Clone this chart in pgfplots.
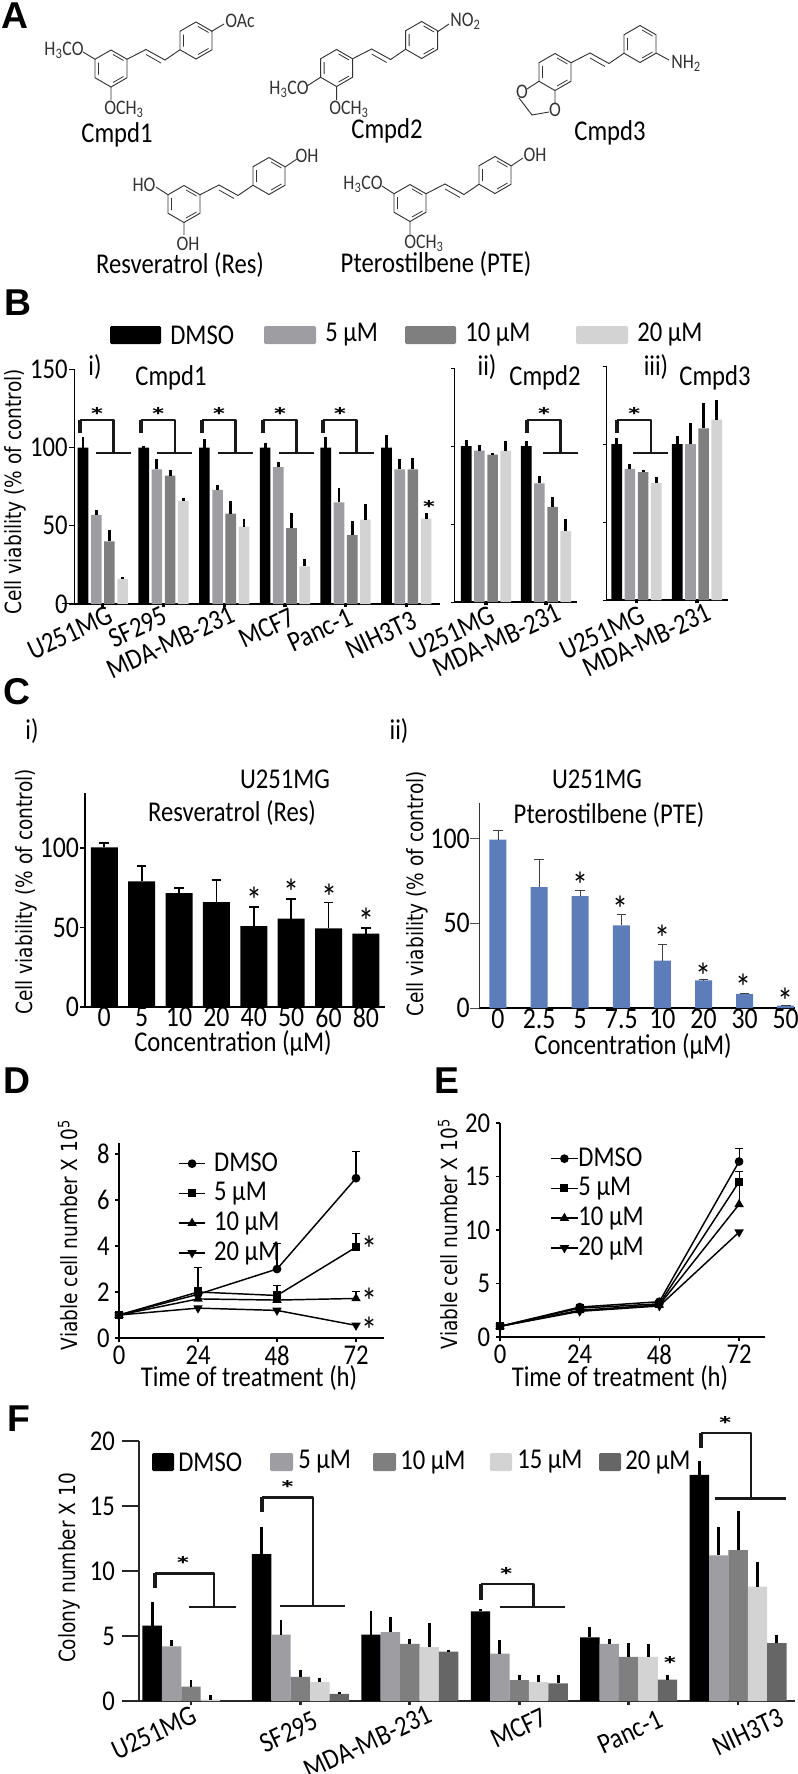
\documentclass[border=0pt]{standalone}
\usepackage{fontspec}
\usepackage{graphicx}
\usepackage{pgfplots}
\pgfplotsset{compat=1.18}
\setmainfont[FakeStretch=0.86]{Carlito}
\newfontfamily\dv[FakeStretch=0.833]{DejaVu Sans}
\newfontfamily\lsans{Liberation Sans}
\newcommand\lab{\fontsize{21.5}{23}\selectfont}
\newcommand\ticklab{\fontsize{22.5}{24}\selectfont}
\newcommand\ylab{\dv\fontsize{16.7}{18}\selectfont}
\newcommand\molf{\fontsize{15.5}{17}\selectfont}
\newcommand\letterf{\lsans\bfseries\fontsize{28}{30}\selectfont}

\definecolor{gA}{HTML}{9D9DA2}
\definecolor{gB}{HTML}{7F7F7F}
\definecolor{gC}{HTML}{D3D3D3}
\definecolor{gD}{HTML}{666666}
\definecolor{blu}{HTML}{5C7DB9}
\definecolor{mol}{HTML}{333333}

\pgfplotsset{
  pos/.style 2 args={at={({#1*0.75pt},{-#2*0.75pt})}},
  panel/.style={
    scale only axis, anchor=south west,
    axis x line=bottom, axis y line=left,
    axis line style={-,black},
    tick align=outside, ymin=0,
    tick label style={font=\lab},
    xticklabel style={inner sep=0pt},
    /pgf/number format/assume math mode=true,
    enlargelimits=false, clip=false,
  },
  eb/.style={
    /pgfplots/error bars/y dir=plus,
    /pgfplots/error bars/y explicit,
    /pgfplots/error bars/error mark=none,
    /pgfplots/error bars/error bar style={draw=black,solid,line width=2.2pt},
  },
  ec/.style 2 args={
    /pgfplots/error bars/y dir=plus,
    /pgfplots/error bars/y explicit,
    /pgfplots/error bars/error bar style={draw=#2,solid,line width=#1},
    /pgfplots/error bars/error mark options={draw=#2,solid,line width=#1,mark size=3.6pt,rotate=90},
  },
  bgrp/.style={
    panel, ybar=1.9pt, bar width=8pt, ymax=150,
    height=176pt, ytick={0,50,100,150},
    xtick={0,...,5}, xticklabels={},
    xtick style={line width=2.4pt,black,/pgfplots/major tick length=2.6pt},
    axis line style={-,black,line width=0.7pt},
    x axis line style={line width=1.3pt},
  },
  linep/.style={
    panel, xtick={0,24,48,72},
    axis line style={-,black,line width=1.3pt},
    ytick style={black,line width=1pt,/pgfplots/major tick length=3pt},
    xtick style={black,line width=1pt,/pgfplots/major tick length=3pt},
    xticklabel style={yshift=-1.2pt},
    legend cell align=left,
    legend image code/.code={\draw[mark repeat=2,mark phase=2,##1] plot coordinates {(0pt,0pt)(10pt,0pt)(20pt,0pt)};},
  },
  lgd/.style n args={3}{
    legend style={at={(rel axis cs:#1,#2)},anchor=north west,draw=none,fill=none,
      inner sep=0pt,outer sep=0pt,row sep=3.3pt,column sep=#3,font=\lab,
      nodes={inner sep=0pt,text height=15pt,text depth=4pt}},
  },
  s1/.style={black,line width=1.1pt,mark=*,mark size=2.7pt},
  s2/.style={black,line width=1.1pt,mark=square*,mark size=2.5pt},
  s3/.style={black,line width=1.1pt,mark=triangle*,mark size=3pt},
  s4/.style={black,line width=1.1pt,mark=triangle*,mark size=3pt,mark options={rotate=180}},
}

% benzene ring, pointy side up
\newcommand\bzring[2]{%
  \begin{scope}[shift={(#1,#2)}]
    \draw[mol,line width=0.7pt] (0,-18.5)--(16,-9.25)--(16,9.25)--(0,18.5)--(-16,9.25)--(-16,-9.25)--cycle;
    \draw[mol,line width=0.6pt] (2,-14)--(12.5,-8) (12.5,8)--(2,14) (-12.5,6)--(-12.5,-6);
  \end{scope}}
% two rings and the vinyl bridge
\newcommand\stil[2]{%
  \bzring{#1}{#2}\bzring{#1+85}{#2-28}%
  \begin{scope}[shift={(#1,#2)}]
    \draw[mol,line width=0.7pt] (16,-9.25)--(35,-19)--(54,-8.5)--(69,-18.75);
    \draw[mol,line width=0.6pt] (35,-14)--(50,-5.5);
  \end{scope}}
\newcommand\mtx[3]{\node[font=\molf,mol,inner sep=0] at (#1,#2) {#3};}

\newcommand\ylb[3]{\node[rotate=90,font=\ylab] at (#1,#2) {#3};}
\newcommand\txt[3]{\node[font=\lab,inner sep=0] at (#1,#2) {#3};}
\newcommand\rtxt[3]{\node[font=\lab,inner sep=0,rotate=25] at (#1,#2) {#3};}
\newcommand\lett[3]{\node[font=\letterf,inner sep=0] at (#1,#2) {#3};}
% asterisks: centre given in picture units
\newcommand\st[2]{\node[inner sep=0,anchor=base,font=\fontsize{28}{28}\selectfont] at (#1,{#2+16.5}) {*};}
\newcommand\bst[2]{\node[inner sep=0,anchor=base,font=\bfseries\fontsize{24}{24}\selectfont] at (#1,{#2+9}) {\scalebox{1.3}[0.7]{*}};}
% brackets: left x, top y, end of thick part, right x, bottom y, bar from, bar to
\newcommand\brk[7]{%
  \draw[line width=1.8pt,black!90,line join=round] (#1,#2)--(#4,#2)--(#4,#5);
  \draw[line width=1.8pt,black!90] (#6,#5)--(#7,#5);
  \draw[line width=3pt,black!90] (#1,#2)--(#1,#3);}
\newcommand\brB[1]{\brk{#1}{420}{433}{#1+33.5}{453}{#1+16}{#1+50.5}\bst{#1+17}{414}}
\newcommand\sw[4]{\fill[#4,rounded corners=1pt] (#1,#2) rectangle (#1+#3,#2+18);}

\begin{document}
\begin{tikzpicture}[x=0.75pt,y=-0.75pt]
\useasboundingbox (0,0) rectangle (797,1774);

% ---------- A
\lett{15}{16}{A}
\stil{111}{68.5}
\draw[mol,line width=0.7pt] (95,59.25)--(83,52) (111,87)--(111,100) (211,31.75)--(224,24);
\mtx{64}{50}{H\textsubscript{3}CO}\mtx{124}{109}{OCH\textsubscript{3}}\node[font=\molf,mol,inner sep=0,anchor=west] at (225,21) {OAc};
\txt{117}{135}{Cmpd1}
\stil{336.6}{68}
\draw[mol,line width=0.7pt] (320.6,77.25)--(307,86) (336.6,86.5)--(336.6,100) (437.6,31.75)--(449,24);
\mtx{289}{89}{H\textsubscript{3}CO}\mtx{349}{109}{OCH\textsubscript{3}}\node[font=\molf,mol,inner sep=0,anchor=west] at (450,21) {NO\textsubscript{2}};
\txt{387}{131}{Cmpd2}
\stil{555}{72}
\draw[mol,line width=0.7pt] (539,81.25)--(527,89) (555,90.5)--(555,104) (519,98)--(532,115)--(549,112) (656,53)--(669,60);
\mtx{522}{92}{O}\mtx{555}{110}{O}\node[font=\molf,mol,inner sep=0,anchor=west] at (671,63) {NH\textsubscript{2}};
\txt{610}{133}{Cmpd3}
\stil{184}{204}
\draw[mol,line width=0.7pt] (168,194.75)--(156,187) (184,222.5)--(184,235) (285,167)--(297,159);
\mtx{144}{185}{HO}\mtx{188}{244}{OH}\mtx{307}{156}{OH}
\txt{180}{265}{Resveratrol (Res)}
\stil{410}{203}
\draw[mol,line width=0.7pt] (394,193.75)--(382,186) (410,221.5)--(410,234) (511,166)--(523,158);
\mtx{363}{184}{H\textsubscript{3}CO}\mtx{424}{243}{OCH\textsubscript{3}}\mtx{535}{155}{OH}
\txt{436}{264}{Pterostilbene (PTE)}

% ---------- B
\lett{18}{303}{B}
\sw{110}{326}{51}{black}\sw{264}{326}{52}{gA}\sw{405}{326}{51}{gB}\sw{576}{326}{52}{gC}
\node[font=\lab,anchor=west,inner sep=0] at (170,335) {DMSO};
\node[font=\lab,anchor=west,inner sep=0] at (325,335) {5 µM};
\node[font=\lab,anchor=west,inner sep=0] at (465,335) {10 µM};
\node[font=\lab,anchor=west,inner sep=0] at (637,335) {20 µM};
\ylb{15}{492}{Cell viability (\% of control)}

\begin{axis}[bgrp, pos={74}{604}, width=274.5pt, xmin=-0.4745, xmax=5.555,
  yticklabels={0\hspace{5pt},50\hspace{2pt},100,150},
  yticklabel style={inner sep=0.3pt},
  ytick style={black,line width=0.7pt,/pgfplots/major tick length=3.75pt}]
\addplot[fill=black,draw=none,eb] coordinates {(0,100)+-(0,7) (1,100)+-(0,1) (2,100)+-(0,5.5) (3,100)+-(0,3) (4,100)+-(0,7) (5,100)+-(0,8)};
\addplot[fill=gA,draw=none,eb] coordinates {(0,57)+-(0,3) (1,86)+-(0,6.6) (2,73)+-(0,3) (3,87.5)+-(0,3.5) (4,65)+-(0,9) (5,86)+-(0,7)};
\addplot[fill=gB,draw=none,eb] coordinates {(0,40)+-(0,7) (1,82)+-(0,3.7) (2,57.7)+-(0,7.9) (3,48.5)+-(0,9.5) (4,44)+-(0,9) (5,86)+-(0,7.5)};
\addplot[fill=gC,draw=none,eb] coordinates {(0,16)+-(0,1.5) (1,66)+-(0,2) (2,49.5)+-(0,5.1) (3,24)+-(0,4.6) (4,54)+-(0,10) (5,54.5)+-(0,3.5)};
\end{axis}
\draw[black,line width=0.7pt] (62,603.5)--(74,603.5);
\begin{axis}[bgrp, pos={454}{602}, width=92.25pt, height=175.5pt, xmin=-0.533, xmax=1.517,
  xtick={0,1}, yticklabels={},
  ytick style={black,line width=0.7pt,/pgfplots/major tick length=2.5pt}]
\addplot[fill=black,draw=none,eb] coordinates {(0,100)+-(0,4) (1,100)+-(0,3)};
\addplot[fill=gA,draw=none,eb] coordinates {(0,97)+-(0,3.5) (1,76)+-(0,4.5)};
\addplot[fill=gB,draw=none,eb] coordinates {(0,94.5)+-(0,1) (1,61)+-(0,6)};
\addplot[fill=gC,draw=none,eb] coordinates {(0,97)+-(0,6) (1,45.5)+-(0,7.5)};
\end{axis}
\begin{axis}[bgrp, pos={606}{600}, width=91.5pt, height=175.5pt, xmin=-0.504, xmax=1.512,
  xtick={0,1}, yticklabels={},
  ytick style={black,line width=0.7pt,/pgfplots/major tick length=2.5pt}]
\addplot[fill=black,draw=none,eb] coordinates {(0,100)+-(0,4) (1,100)+-(0,5)};
\addplot[fill=gA,draw=none,eb] coordinates {(0,84)+-(0,3) (1,100)+-(0,13.7)};
\addplot[fill=gB,draw=none,eb] coordinates {(0,82)+-(0,1.5) (1,110)+-(0,16)};
\addplot[fill=gC,draw=none,eb] coordinates {(0,75)+-(0,4) (1,115.6)+-(0,12.4)};
\end{axis}
\brB{80}\brB{141.4}\brB{202}\brB{263}\brB{323}\brB{527}\brB{617.4}
\bst{429}{507}
\txt{95}{367}{i)}\txt{171}{378}{Cmpd1}\txt{487}{367}{ii)}\txt{545}{378}{Cmpd2}\txt{656}{367}{iii)}\txt{715}{378}{Cmpd3}
\rtxt{70}{633}{U251MG}\rtxt{138}{627}{SF295}\rtxt{171}{642}{MDA-MB-231}\rtxt{267}{628}{MCF7}\rtxt{320}{630}{Panc-1}\rtxt{381}{635}{NIH3T3}
\rtxt{452}{633}{U251MG}\rtxt{497}{640}{MDA-MB-231}\rtxt{602}{633}{U251MG}\rtxt{647}{640}{MDA-MB-231}

% ---------- C
\lett{17}{692}{C}
\txt{32}{731}{i)}\txt{399}{731}{ii)}
\txt{285}{779}{U251MG}\txt{232}{813}{Resveratrol (Res)}
\txt{597}{779}{U251MG}\txt{609}{815}{Pterostilbene (PTE)}
\ylb{26}{892}{Cell viability (\% of control)}
\ylb{417}{894}{Cell viability (\% of control)}
\begin{axis}[panel, pos={85}{1007}, width=225pt, height=160.5pt, ymax=134.6, xmin=-0.516, xmax=7.51,
  ybar, bar width=20.25pt, ytick={0,50,100},
  xtick={0,...,7}, xticklabels={0,5,10,20,40,50,60,80},
  tick label style={font=\ticklab},
  yticklabel style={inner sep=0pt},
  xticklabel style={yshift=4.5pt},
  xtick style={draw=none},
  ytick style={black,line width=0.8pt,/pgfplots/major tick length=3.5pt},
  axis line style={-,black,line width=1.1pt},
  x axis line style={line width=1.6pt}]
\addplot[fill=black,draw=none,ec={1.3pt}{black}] coordinates {(0,100.4)+-(0,2.6) (1,79)+-(0,9.5) (2,71.7)+-(0,3) (3,66)+-(0,13.7) (4,50.8)+-(0,12.2) (5,55.6)+-(0,12.4) (6,49.4)+-(0,16.3) (7,46.2)+-(0,3.4)};
\end{axis}
\st{254}{897}\st{291}{889}\st{329}{894}\st{366}{918}
\node[font=\lab,inner sep=0] at (233,1043) {Concentration (µM)};
\begin{axis}[panel, pos={479}{1008}, width=237pt, height=153.75pt, ymax=121, xmin=-0.462, xmax=7.226,
  ybar, bar width=12.75pt, ytick={0,50,100},
  xtick={0,...,7}, xticklabels={0,2.5,5,7.5,10,20,30,50},
  tick label style={font=\ticklab},
  yticklabel style={inner sep=2.5pt},
  xticklabel style={yshift=3.5pt},
  xtick style={draw=none},
  ytick style={black!70,line width=0.5pt,/pgfplots/major tick length=6.5pt},
  axis line style={-,black!80,line width=0.5pt},
  x axis line style={black,line width=0.9pt}]
\addplot[fill=blu,draw=none,ec={0.6pt}{black!75}] coordinates {(0,99.4)+-(0,5.6) (1,71.3)+-(0,16.7) (2,66)+-(0,3.5) (3,48.8)+-(0,6.5) (4,28)+-(0,9.4) (5,16.3)+-(0,0.5) (6,8.3)+-(0,0.3) (7,1.4)+-(0,0.3)};
\end{axis}
\st{580}{882}\st{620}{906}\st{662}{935}\st{703}{973}\st{743}{984}\st{785}{998}
\node[font=\lab,inner sep=0] at (633,1046) {Concentration (µM)};

% ---------- D
\lett{17}{1081}{D}\lett{447}{1081}{E}
\ylb{68}{1235}{Viable cell number X 10\textsuperscript{5}}
\begin{axis}[linep, lgd={0.2226}{0.959}{6pt}, pos={119}{1338}, width=198.75pt, height=146.25pt,
  ymax=8.48, xmin=0, xmax=80.5, ytick={0,2,4,6,8}, yticklabel style={inner sep=2.5pt}]
\addplot[s1,error bars/.cd,y dir=plus,y explicit,error bar style={black,line width=0.8pt},error mark options={black,line width=0.8pt,mark size=3pt,rotate=90}]
  coordinates {(0,1)+-(0,0) (24,1.9)+-(0,0.3) (48,3)+-(0,1.1) (72,6.95)+-(0,1.15)};
\addplot[s2,error bars/.cd,y dir=plus,y explicit,error bar style={black,line width=0.8pt},error mark options={black,line width=0.8pt,mark size=3pt,rotate=90}]
  coordinates {(0,1)+-(0,0) (24,2)+-(0,1.05) (48,1.85)+-(0,0.45) (72,3.95)+-(0,0.6)};
\addplot[s3,error bars/.cd,y dir=plus,y explicit,error bar style={black,line width=0.8pt},error mark options={black,line width=0.8pt,mark size=3pt,rotate=90}]
  coordinates {(0,1)+-(0,0) (24,1.7)+-(0,0.2) (48,1.65)+-(0,0.2) (72,1.72)+-(0,0.3)};
\addplot[s4] coordinates {(0,1) (24,1.3) (48,1.2) (72,0.55)};
\legend{DMSO,5 µM,10 µM,20 µM}
\end{axis}
\st{369}{1246}\st{369}{1298}\st{369}{1327}
\txt{249}{1378}{Time of treatment (h)}

% ---------- E
\ylb{448}{1234}{Viable cell number X 10\textsuperscript{5}}
\begin{axis}[linep, lgd={0.19}{0.8925}{0pt}, pos={500}{1337}, width=198.75pt, height=160.5pt,
  ymax=20, xmin=0, xmax=79.8, ytick={0,5,10,15,20}, yticklabel style={inner sep=3pt}]
\addplot[s1,error bars/.cd,y dir=plus,y explicit,error bar style={black,line width=0.8pt},error mark options={black,line width=0.8pt,mark size=3pt,rotate=90}]
  coordinates {(0,1)+-(0,0) (24,2.8)+-(0,0.1) (48,3.3)+-(0,0.1) (72,16.4)+-(0,1.2)};
\addplot[s2,error bars/.cd,y dir=plus,y explicit,error bar style={black,line width=0.8pt},error mark options={black,line width=0.8pt,mark size=3pt,rotate=90}]
  coordinates {(0,1)+-(0,0) (24,2.7)+-(0,0.1) (48,3.1)+-(0,0.1) (72,14.5)+-(0,1)};
\addplot[s3,error bars/.cd,y dir=plus,y explicit,error bar style={black,line width=0.8pt},error mark options={black,line width=0.8pt,mark size=3pt,rotate=90}]
  coordinates {(0,1)+-(0,0) (24,2.5)+-(0,0.1) (48,3)+-(0,0.1) (72,12.4)+-(0,2.1)};
\addplot[s4] coordinates {(0,1) (24,2.4) (48,2.9) (72,9.8)};
\legend{DMSO,5 µM,10 µM,20 µM}
\end{axis}
\txt{620}{1378}{Time of treatment (h)}

% ---------- F
\lett{19}{1419}{F}
\ylb{69}{1568}{Colony number X 10}
\begin{axis}[panel, pos={139}{1701}, width=492pt, height=195pt, ymax=20,
  xmin=-0.475, xmax=5.52, ybar=0pt, bar width=14.55pt,
  ytick={0,5,10,15,20}, xtick={0,...,5}, xticklabels={},
  yticklabel style={inner sep=0pt,xshift=-13.7pt},
  axis line style={-,black!85,line width=2pt},
  ytick style={black!85,line width=1.6pt,/pgfplots/major tick length=12.75pt},
  xtick style={black!85,line width=2pt,/pgfplots/major tick length=3pt}]
\addplot[fill=black,draw=none,eb] coordinates {(0,5.8)+-(0,1.8) (1,11.3)+-(0,2.1) (2,5.1)+-(0,1.8) (3,6.9)+-(0,0.15) (4,4.9)+-(0,0.8) (5,17.4)+-(0,1.1)};
\addplot[fill=gA,draw=none,eb] coordinates {(0,4.2)+-(0,0.5) (1,5.1)+-(0,1.1) (2,5.3)+-(0,1.2) (3,3.65)+-(0,1.05) (4,4.4)+-(0,0.4) (5,11.2)+-(0,2.2)};
\addplot[fill=gB,draw=none,eb] coordinates {(0,1.1)+-(0,0.55) (1,1.85)+-(0,0.5) (2,4.4)+-(0,0.4) (3,1.6)+-(0,0.4) (4,3.4)+-(0,1.1) (5,11.6)+-(0,3)};
\addplot[fill=gC,draw=none,eb] coordinates {(0,0.1)+-(0,0.4) (1,1.45)+-(0,0.35) (2,4.15)+-(0,1.85) (3,1.45)+-(0,0.55) (4,3.4)+-(0,1) (5,8.8)+-(0,1.9)};
\addplot[fill=gD,draw=none,eb] coordinates {(1,0.55)+-(0,0.15) (2,3.8)+-(0,0.15) (3,1.35)+-(0,0.65) (4,1.65)+-(0,0.35) (5,4.45)+-(0,0.65)};
\end{axis}
\brk{155}{1573.3}{1588}{213.8}{1606.7}{189.3}{236.3}\bst{183}{1563}
\brk{262.4}{1497.3}{1511.7}{313}{1606}{279.8}{345.3}\bst{287.5}{1487}
\brk{481.3}{1584}{1600}{533.5}{1606.7}{499.7}{565.2}\bst{506.4}{1574}
\brk{700.8}{1432.7}{1448.3}{750.9}{1498.3}{714.6}{786.2}\bst{725.3}{1423}
\bst{670}{1663}
\sw{152}{1453}{22}{black}\sw{270}{1453}{23}{gA}\sw{373}{1453}{23}{gB}\sw{490}{1453}{22}{gC}\sw{599}{1453}{22}{gD}
\node[font=\lab,anchor=west,inner sep=0] at (178,1462) {DMSO};
\node[font=\lab,anchor=west,inner sep=0] at (298,1462) {5 µM};
\node[font=\lab,anchor=west,inner sep=0] at (400,1462) {10 µM};
\node[font=\lab,anchor=west,inner sep=0] at (517,1462) {15 µM};
\node[font=\lab,anchor=west,inner sep=0] at (625,1462) {20 µM};
\rtxt{154}{1733}{U251MG}\rtxt{289}{1732}{SF295}\rtxt{368}{1742}{MDA-MB-231}\rtxt{519}{1728}{MCF7}\rtxt{630}{1732}{Panc-1}\rtxt{748}{1732}{NIH3T3}
\end{tikzpicture}
\end{document}
